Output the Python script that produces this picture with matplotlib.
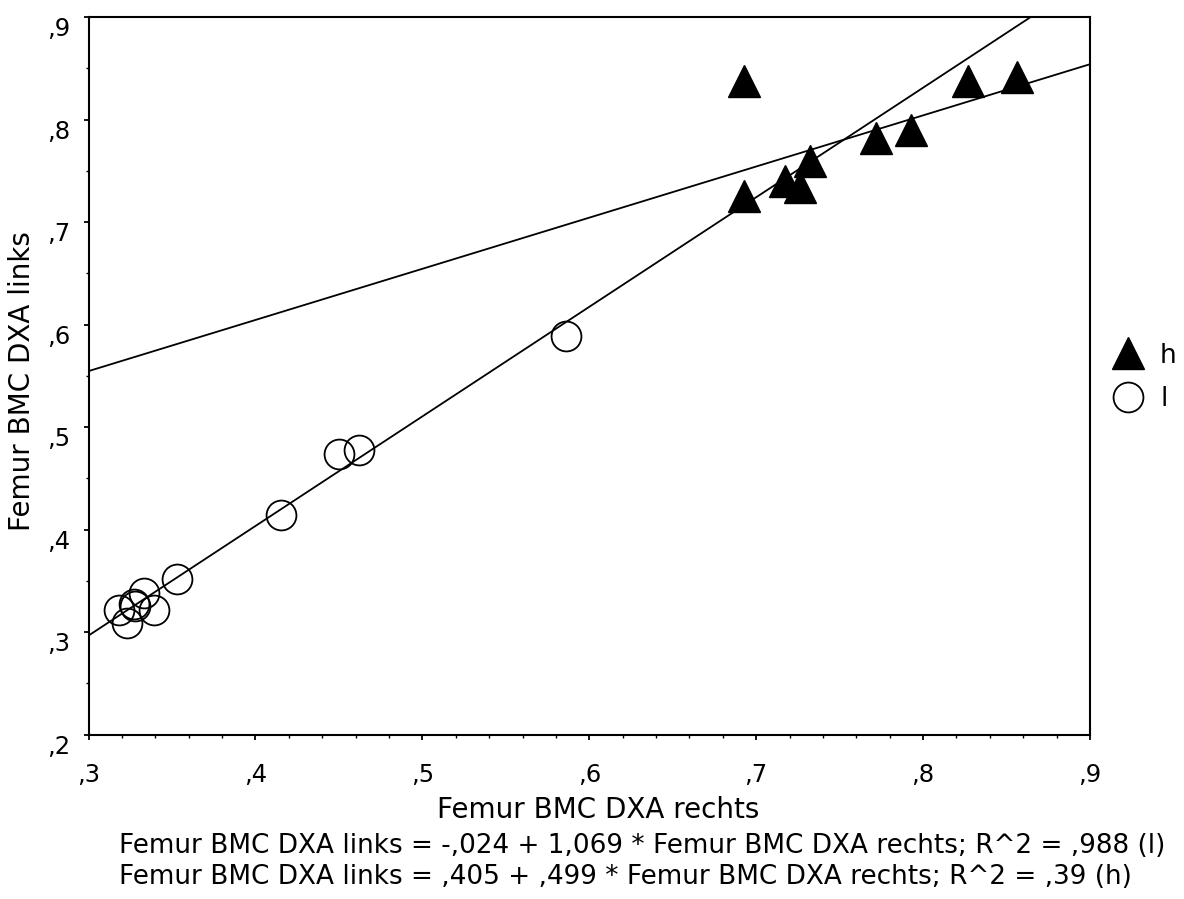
import numpy as np
import matplotlib
matplotlib.use("Agg")
from matplotlib import pyplot as plt
from matplotlib.ticker import MultipleLocator, FuncFormatter

plt.rcParams['font.family'] = ['DejaVu Sans']

# Group h (filled triangles)
h_rechts = [0.693, 0.693, 0.717, 0.726, 0.732, 0.772, 0.793, 0.827, 0.856]
h_links = [0.838, 0.726, 0.740, 0.734, 0.760, 0.782, 0.790, 0.838, 0.842]

# Group l (open circles)
l_rechts = [0.318, 0.323, 0.327, 0.328, 0.333, 0.339, 0.353, 0.415, 0.450, 0.462, 0.586]
l_links = [0.322, 0.309, 0.327, 0.326, 0.338, 0.322, 0.352, 0.414, 0.474, 0.478, 0.589]

# Fit coefficients (intercept, slope) as printed below the chart
fit_l = (-0.024, 1.069)
fit_h = (0.405, 0.499)

eq_lines = [
    "Femur BMC DXA links = -,024 + 1,069 * Femur BMC DXA rechts; R^2 = ,988 (l)",
    "Femur BMC DXA links = ,405 + ,499 * Femur BMC DXA rechts; R^2 = ,39 (h)",
]


def comma_fmt(v, pos):
    # SPSS style: ",3" instead of "0.3"
    s = f"{v:.1f}"
    if s.startswith("0"):
        s = s[1:]
    return s.replace(".", ",")


# Figure of 1184x899 px
fig = plt.figure(figsize=(11.84, 8.99), dpi=100)
ax = fig.add_axes([0.0748, 0.1828, 0.8458, 0.7981])

xs = np.array([0.3, 0.9])
for b0, b1 in (fit_l, fit_h):
    ax.plot(xs, b0 + b1 * xs, color='black', lw=1.3, zorder=2)

ax.plot(h_rechts, h_links, linestyle='none', marker='^', ms=23,
        color='black', zorder=3, label='h')
ax.plot(l_rechts, l_links, linestyle='none', marker='o', ms=21.5,
        mfc='none', mec='black', mew=1.3, zorder=3, label='l')

ax.set_xlim(0.3, 0.9)
ax.set_ylim(0.2, 0.9)

ax.xaxis.set_major_locator(MultipleLocator(0.1))
ax.xaxis.set_minor_locator(MultipleLocator(0.02))
ax.yaxis.set_major_locator(MultipleLocator(0.1))
ax.yaxis.set_minor_locator(MultipleLocator(0.05))
ax.xaxis.set_major_formatter(FuncFormatter(comma_fmt))
ax.yaxis.set_major_formatter(FuncFormatter(comma_fmt))

ax.tick_params(which='major', direction='out', length=3.6, width=1.3,
               labelsize=17.5, top=False, right=False)
ax.tick_params(which='minor', direction='out', length=2.5, width=1.0,
               top=False, right=False)
ax.tick_params(axis='x', pad=16.5)
ax.tick_params(axis='y', pad=9.3)
# y labels hang below their tick, as in SPSS
plt.setp(ax.get_yticklabels(), va='top')

for sp in ax.spines.values():
    sp.set_linewidth(1.5)

ax.set_xlabel("Femur BMC DXA rechts", fontsize=20, va='top')
ax.xaxis.set_label_coords(0.509, -0.0854)
ax.set_ylabel("Femur BMC DXA links", fontsize=20)
ax.yaxis.set_label_coords(-0.0525, 0.4923)

leg = ax.legend(loc='center left', bbox_to_anchor=(1.022, 0.498),
                frameon=False, fontsize=19, handletextpad=0.62,
                labelspacing=0.67, borderaxespad=0.0, borderpad=0.0,
                handlelength=1.2)

fig.text(0.1005, 0.0512, eq_lines[0], fontsize=18.9, ha='left', va='baseline')
fig.text(0.1005, 0.0167, eq_lines[1], fontsize=18.9, ha='left', va='baseline')

fig.savefig("out.png", dpi=100)
